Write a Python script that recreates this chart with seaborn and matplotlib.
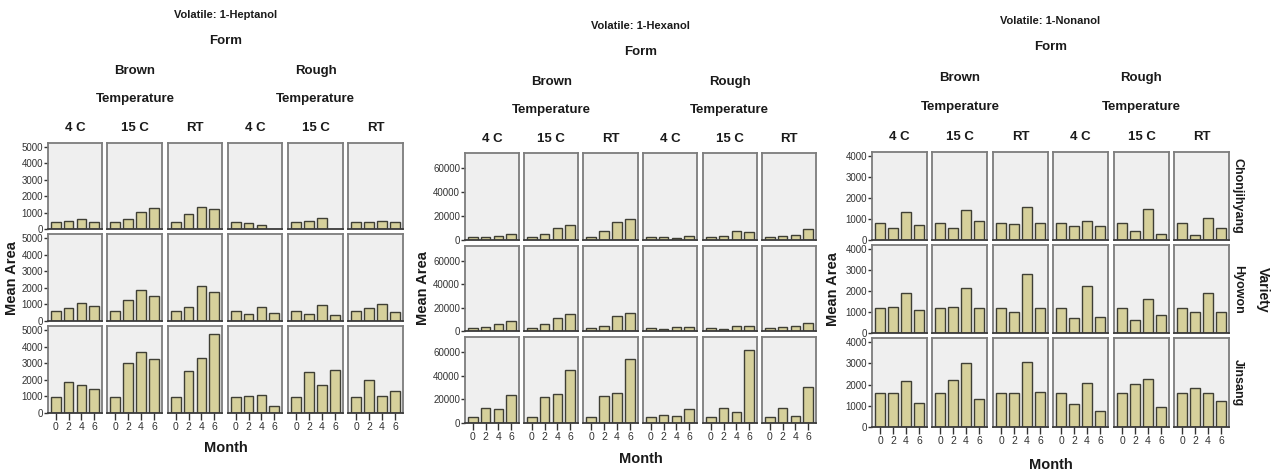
import numpy as np
import pandas as pd
import matplotlib
matplotlib.use("Agg")
import matplotlib.pyplot as plt
import seaborn as sns

# ---------------------------------------------------------------- data
months = [0, 2, 4, 6]
forms = ["Brown", "Rough"]
temperatures = ["4 C", "15 C", "RT"]
varieties = ["Chonjihyang", "Hyowon", "Jinsang"]
volatiles = ["1-Heptanol", "1-Hexanol", "1-Nonanol"]

# each list: Brown 4 C, Brown 15 C, Brown RT, Rough 4 C, Rough 15 C, Rough RT
# (mean area at months 0, 2, 4, 6)
heptanol_chonjihyang = [[450, 510, 610, 430], [450, 590, 1010, 1260], [450, 935, 1340, 1200],
                        [450, 345, 265, np.nan], [450, 490, 690, np.nan], [450, 430, 470, 450]]
heptanol_hyowon = [[630, 795, 1080, 875], [630, 1245, 1855, 1530], [630, 855, 2100, 1755],
                   [630, 430, 815, 510], [630, 450, 940, 390], [630, 755, 1000, 570]]
heptanol_jinsang = [[940, 1840, 1675, 1470], [940, 3000, 3690, 3265], [940, 2510, 3330, 4730],
                    [940, 1020, 1100, 430], [940, 2450, 1690, 2590], [940, 1960, 1040, 1305]]

hexanol_chonjihyang = [[2300, 2600, 3700, 4900], [2300, 4900, 9700, 12600], [2300, 7700, 14600, 17400],
                       [2300, 2600, 2000, 3400], [2300, 3400, 7100, 6600], [2300, 3700, 4300, 9100]]
hexanol_hyowon = [[2870, 3730, 6300, 8600], [2870, 6300, 10900, 14350], [2870, 4300, 12900, 15200],
                  [2870, 2000, 3400, 3400], [2870, 2000, 4000, 4600], [2870, 3150, 4600, 6600]]
hexanol_jinsang = [[4900, 12900, 11800, 23800], [4900, 21800, 24700, 45100], [4900, 22400, 25000, 54000],
                   [4900, 6900, 6000, 12000], [4900, 12300, 8900, 61400], [4900, 12600, 5700, 30100]]

nonanol_chonjihyang = [[800, 580, 1340, 725], [800, 580, 1430, 900], [800, 755, 1560, 800],
                       [800, 645, 930, 645], [800, 440, 1500, 285], [800, 220, 1040, 570]]
nonanol_hyowon = [[1185, 1250, 1900, 1120], [1185, 1250, 2160, 1215], [1185, 990, 2800, 1170],
                  [1185, 720, 2225, 750], [1185, 610, 1615, 880], [1185, 990, 1890, 990]]
nonanol_jinsang = [[1595, 1595, 2170, 1130], [1595, 2215, 3000, 1340], [1595, 1595, 3075, 1640],
                   [1595, 1085, 2070, 765], [1595, 2010, 2250, 955], [1595, 1830, 1595, 1230]]

heptanol_ticks = [0, 1000, 2000, 3000, 4000, 5000]
hexanol_ticks = [0, 20000, 40000, 60000]
nonanol_ticks = [0, 1000, 2000, 3000, 4000]

tables = {
    "1-Heptanol": [heptanol_chonjihyang, heptanol_hyowon, heptanol_jinsang],
    "1-Hexanol": [hexanol_chonjihyang, hexanol_hyowon, hexanol_jinsang],
    "1-Nonanol": [nonanol_chonjihyang, nonanol_hyowon, nonanol_jinsang],
}

records = []
for vol, rows in tables.items():
    for variety, groups in zip(varieties, rows):
        for gi, vals in enumerate(groups):
            form = forms[gi // 3]
            temp = temperatures[gi % 3]
            for m, v in zip(months, vals):
                records.append(dict(Volatile=vol, Variety=variety, Form=form,
                                    Temperature=temp, Month=m, Area=v))
df = pd.DataFrame(records)

# ---------------------------------------------------------------- style
sns.set_style("white")
FONT = ["Liberation Sans", "DejaVu Sans"]
plt.rcParams["font.family"] = FONT

FACE = "#efefef"
FRAME = "#7c7c7c"
BAR = "#d6d09b"
BAR_EDGE = "#3f3f35"
TXT = "#1a1a1a"

W, H = 1276, 474
fig = plt.figure(figsize=(W / 100, H / 100), dpi=100)
fig.patch.set_facecolor("white")


def fx(px):
    return px / W


def fy(py):
    return 1 - py / H


# panel layouts in pixels: column spans, row spans, header rows
layouts = {
    "1-Heptanol": dict(
        cols=[(48, 102), (107, 162), (168, 222), (228, 282), (288, 343), (348, 403)],
        rows=[(143, 229), (234, 321), (326, 413)],
        title_y=15, form_y=41, group_y=71, temp_y=99, col_y=128,
        month_y=448, ylab_x=12, ymax=5240, ticks=heptanol_ticks, side=False),
    "1-Hexanol": dict(
        cols=[(465, 519), (524, 578), (583, 638), (643, 697), (703, 757), (762, 816)],
        rows=[(153, 240), (246, 331), (337, 423)],
        title_y=26, form_y=52, group_y=82, temp_y=110, col_y=139,
        month_y=459, ylab_x=423, ymax=72500, ticks=hexanol_ticks, side=False),
    "1-Nonanol": dict(
        cols=[(872, 927), (932, 987), (993, 1048), (1053, 1108), (1114, 1169), (1174, 1229)],
        rows=[(152, 240), (245, 333), (338, 427)],
        title_y=21, form_y=47, group_y=78, temp_y=107, col_y=137,
        month_y=465, ylab_x=833, ymax=4200, ticks=nonanol_ticks, side=True),
}


def draw_panel(vol, L):
    sub_v = df[df["Volatile"] == vol]
    cols, rows = L["cols"], L["rows"]
    x_mid = (cols[0][0] + cols[-1][1]) / 2
    for ri, (y0, y1) in enumerate(rows):
        for ci, (x0, x1) in enumerate(cols):
            ax = fig.add_axes([fx(x0), fy(y1), fx(x1 - x0), (y1 - y0) / H])
            cell = sub_v[(sub_v["Variety"] == varieties[ri])
                         & (sub_v["Form"] == forms[ci // 3])
                         & (sub_v["Temperature"] == temperatures[ci % 3])]
            sns.barplot(data=cell, x="Month", y="Area", order=months, color=BAR,
                        saturation=1, edgecolor=BAR_EDGE, linewidth=1.0,
                        width=0.74, errorbar=None, ax=ax)
            ax.set_facecolor(FACE)
            ax.set_xlim(-0.62, 3.62)
            ax.set_ylim(0, L["ymax"])
            ax.set_xlabel("")
            ax.set_ylabel("")
            for s in ax.spines.values():
                s.set_color(FRAME)
                s.set_linewidth(1.3)
            ax.spines["bottom"].set_color("#3a3a3a")
            if ci == 0:
                ax.set_yticks(L["ticks"])
                ax.set_yticklabels([str(t) for t in L["ticks"]], fontsize=7,
                                   color="#333333")
                ax.tick_params(axis="y", direction="out", length=3, width=1,
                               color="#333333", pad=0.5, left=True)
            else:
                ax.set_yticks([])
            if ri == len(rows) - 1:
                ax.set_xticks(range(len(months)))
                ax.set_xticklabels([str(m) for m in months], fontsize=7.5,
                                   color="#333333")
                ax.tick_params(axis="x", direction="out", length=5, width=1,
                               color="#333333", pad=1.5, bottom=True)
            else:
                ax.set_xticks([])
            if ri == 0:
                ax.text(0.5, 1 + (y0 - L["col_y"]) / (y1 - y0), temperatures[ci % 3],
                        transform=ax.transAxes, ha="center", va="center",
                        fontsize=9.5, fontweight="bold", color=TXT)
            if L["side"] and ci == len(cols) - 1:
                ax.text(1.0 + 9 / (x1 - x0), 0.5, varieties[ri], transform=ax.transAxes,
                        rotation=-90, ha="center", va="center", fontsize=9,
                        fontweight="bold", color=TXT)

    # header stack
    fig.text(fx(x_mid), fy(L["title_y"]), f"Volatile: {vol}", ha="center", va="center",
             fontsize=8, fontweight="bold", color=TXT)
    fig.text(fx(x_mid), fy(L["form_y"]), "Form", ha="center", va="center",
             fontsize=9.5, fontweight="bold", color=TXT)
    for g in range(2):
        gx = (cols[3 * g][0] + cols[3 * g + 2][1]) / 2
        fig.text(fx(gx), fy(L["group_y"]), forms[g], ha="center", va="center",
                 fontsize=9.5, fontweight="bold", color=TXT)
        fig.text(fx(gx), fy(L["temp_y"]), "Temperature", ha="center", va="center",
                 fontsize=9.5, fontweight="bold", color=TXT)
    # axis titles
    fig.text(fx(x_mid), fy(L["month_y"]), "Month", ha="center", va="center",
             fontsize=10.5, fontweight="bold", color=TXT)
    y_mid = (rows[0][0] + rows[-1][1]) / 2
    fig.text(fx(L["ylab_x"]), fy(y_mid), "Mean Area", rotation=90, ha="center",
             va="center", fontsize=10.5, fontweight="bold", color=TXT)
    if L["side"]:
        fig.text(fx(1263), fy(y_mid), "Variety", rotation=-90, ha="center",
                 va="center", fontsize=10, fontweight="bold", color=TXT)


for vol in volatiles:
    draw_panel(vol, layouts[vol])

fig.savefig("out.png", dpi=100, facecolor="white")
